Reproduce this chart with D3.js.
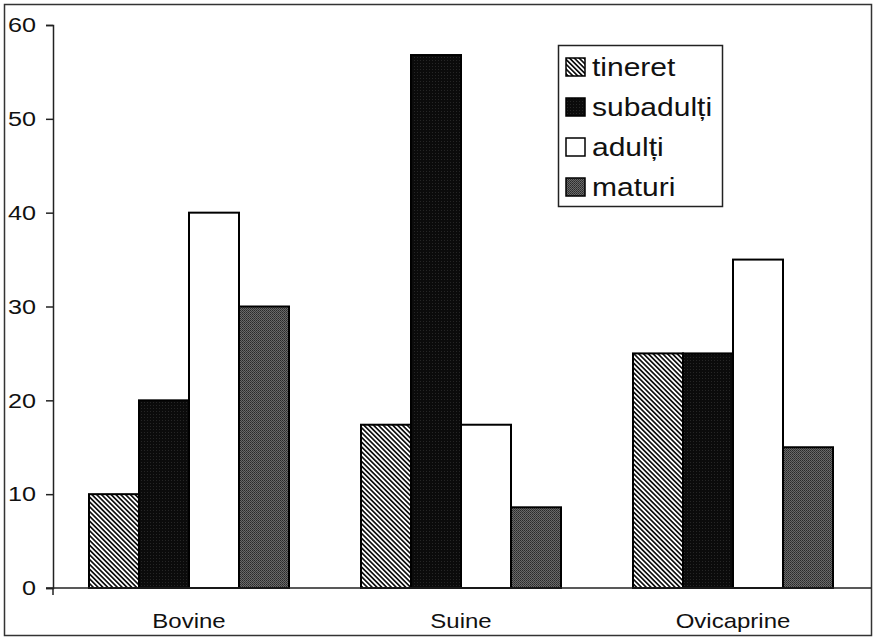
<!DOCTYPE html>
<html>
<head>
<meta charset="utf-8">
<script src="https://cdn.jsdelivr.net/npm/d3@7"></script>
<style>
    body { margin: 0; background: #fff; }
    text { font-family: "Liberation Sans", Arial, sans-serif; fill: #111; }
</style>
</head>
<body>
<script>
var categories = ["Bovine", "Suine", "Ovicaprine"];
var series = ["tineret", "subadulți", "adulți", "maturi"];
var tineret = [10, 17.4, 25];
var subadulti = [20, 56.8, 25];
var adulti = [40, 17.4, 35];
var maturi = [30, 8.6, 15];
var yTicks = [0, 10, 20, 30, 40, 50, 60];

var values = [tineret, subadulti, adulti, maturi];
var size = { x: 874, y: 640 };
var plot = { left: 53, top: 25, right: 869, bottom: 588 };
var stretch = 1.2;  // the scan is wider than tall

var svg = d3.select("body")
    .append("svg")
    .attr("width", size.x)
    .attr("height", size.y);

// fills
var defs = svg.append("defs");

var hatch = defs.append("pattern")
    .attr("id", "hatch")
    .attr("patternUnits", "userSpaceOnUse")
    .attr("width", 3.4)
    .attr("height", 3.4)
    .attr("patternTransform", "rotate(-45)");
hatch.append("rect").attr("width", 3.4).attr("height", 3.4).attr("fill", "#fff");
hatch.append("rect").attr("width", 1.7).attr("height", 3.4).attr("fill", "#111");

var dark = defs.append("pattern")
    .attr("id", "dark")
    .attr("patternUnits", "userSpaceOnUse")
    .attr("width", 3)
    .attr("height", 3);
dark.append("rect").attr("width", 3).attr("height", 3).attr("fill", "#0b0b0b");
dark.append("rect").attr("width", 1).attr("height", 1).attr("fill", "#262626");

var grain = defs.append("pattern")
    .attr("id", "grain")
    .attr("patternUnits", "userSpaceOnUse")
    .attr("width", 2)
    .attr("height", 2);
grain.append("rect").attr("width", 2).attr("height", 2).attr("fill", "#6a6a6a");
grain.append("rect").attr("width", 1).attr("height", 1).attr("fill", "#2a2a2a");
grain.append("rect").attr("x", 1).attr("y", 1).attr("width", 1).attr("height", 1).attr("fill", "#3a3a3a");

var fills = ["url(#hatch)", "url(#dark)", "#fff", "url(#grain)"];

// outer frame
svg.append("rect")
    .attr("x", 4.5)
    .attr("y", 4.5)
    .attr("width", size.x - 7)
    .attr("height", size.y - 9)
    .attr("fill", "none")
    .attr("stroke", "#333")
    .attr("stroke-width", 1.5);

// scales
var x = d3.scaleBand()
    .domain(categories)
    .range([plot.left, plot.right]);

var xInner = d3.scaleBand()
    .domain(series)
    .range([0, x.bandwidth()])
    .paddingOuter(0.72);

var y = d3.scaleLinear()
    .domain([0, 60])
    .range([plot.bottom, plot.top]);

// bars
var groups = svg.append("g").selectAll("g")
    .data(series)
    .enter().append("g")
        .attr("fill", function(d, i) { return fills[i]; });

groups.selectAll("rect")
    .data(function(d, i) {
        return categories.map(function(c, j) { return { cat: c, s: d, v: values[i][j] }; }); })
    .enter().append("rect")
        .attr("x", function(d) { return x(d.cat) + xInner(d.s); })
        .attr("y", function(d) { return y(d.v); })
        .attr("width", xInner.bandwidth())
        .attr("height", function(d) { return y(0) - y(d.v); })
        .attr("stroke", "#000")
        .attr("stroke-width", 2);

// y axis
var yAxis = svg.append("g")
    .attr("transform", "translate(" + plot.left + ",0)")
    .call(d3.axisLeft(y).tickValues(yTicks).tickSize(7).tickPadding(12));

yAxis.select(".domain").attr("stroke", "#222").attr("stroke-width", 1.5);
yAxis.selectAll(".tick line").attr("stroke", "#222").attr("stroke-width", 1.5);
yAxis.selectAll(".tick text")
    .attr("font-size", 21)
    .attr("font-family", "Liberation Sans, Arial, sans-serif")
    .attr("fill", "#111")
    .attr("x", -17 / stretch)
    .attr("transform", "scale(" + stretch + ",1)");

// x axis
var xAxis = svg.append("g")
    .attr("transform", "translate(0," + plot.bottom + ")")
    .call(d3.axisBottom(x).tickSize(0).tickPadding(0).tickSizeOuter(0));

xAxis.select(".domain")
    .attr("stroke", "#222")
    .attr("stroke-width", 1.5)
    .attr("d", "M" + (plot.left - 7) + ",0H" + (size.x - 3));
xAxis.append("line")
    .attr("x1", plot.left)
    .attr("x2", plot.left)
    .attr("y1", 0)
    .attr("y2", 7)
    .attr("stroke", "#222")
    .attr("stroke-width", 1.5);
xAxis.selectAll(".tick text")
    .attr("font-size", 20)
    .attr("font-family", "Liberation Sans, Arial, sans-serif")
    .attr("fill", "#111")
    .attr("y", 40)
    .attr("dy", 0)
    .attr("transform", "scale(" + stretch + ",1)");

// legend
var legend = svg.append("g")
    .attr("transform", "translate(558,45)");

legend.append("rect")
    .attr("x", 0.5)
    .attr("y", 0.5)
    .attr("width", 164)
    .attr("height", 161)
    .attr("fill", "#fff")
    .attr("stroke", "#222")
    .attr("stroke-width", 1.5);

var item = legend.selectAll("g.item")
    .data(series)
    .enter().append("g")
        .attr("class", "item")
        .attr("transform", function(d, i) { return "translate(0," + (22 + i * 40) + ")"; });

item.append("rect")
    .attr("x", 8)
    .attr("y", -9)
    .attr("width", 19)
    .attr("height", 18)
    .attr("fill", function(d, i) { return fills[i]; })
    .attr("stroke", "#000")
    .attr("stroke-width", 1.5);

item.append("text")
    .attr("transform", "translate(34,0) scale(" + stretch + ",1)")
    .attr("dy", "0.36em")
    .attr("font-size", 25)
    .text(function(d) { return d; });
</script>
</body>
</html>
